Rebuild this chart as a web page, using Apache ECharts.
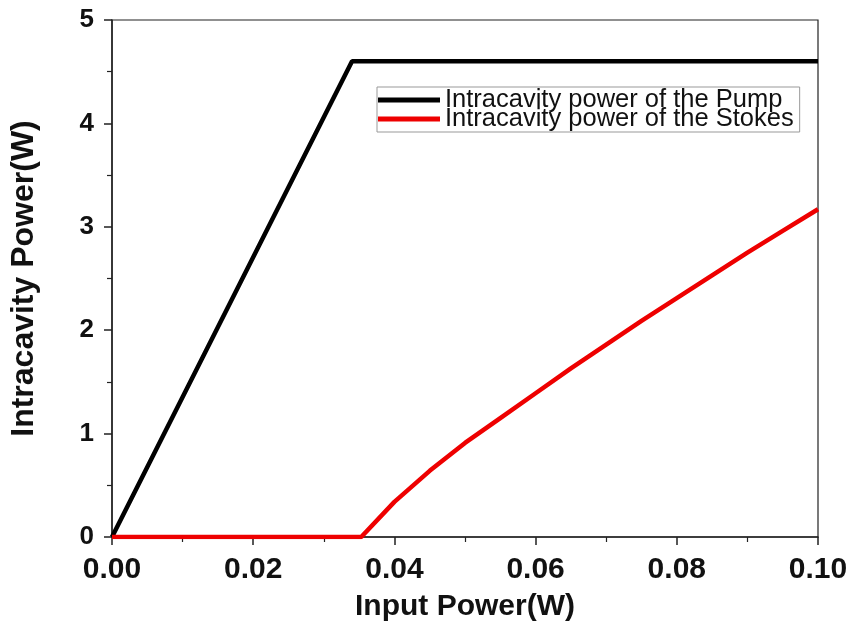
<!DOCTYPE html>
<html><head><meta charset="utf-8">
<script src="https://cdn.jsdelivr.net/npm/echarts@6/dist/echarts.min.js"></script>
<style>html,body{margin:0;padding:0;background:#fff}#c{width:852px;height:627px}</style>
</head><body><div id="c"></div>
<script>
var pumpX = [0, 0.034, 0.1];
var pumpY = [0, 4.6, 4.6];
var stokesX = [0, 0.0353, 0.04, 0.045, 0.05, 0.055, 0.06, 0.065, 0.07, 0.075, 0.08, 0.085, 0.09, 0.095, 0.1];
var stokesY = [0, 0, 0.34, 0.64, 0.91, 1.15, 1.39, 1.63, 1.86, 2.09, 2.31, 2.53, 2.75, 2.96, 3.17];
var seriesNames = ['Intracavity power of the Pump', 'Intracavity power of the Stokes'];
var xName = 'Input Power(W)';
var yName = 'Intracavity Power(W)';

function pairs(xs, ys){ return xs.map(function(x,i){ return [x, ys[i]]; }); }

var chart = echarts.init(document.getElementById('c'));
var font = 'Liberation Sans, Arial, sans-serif';
chart.setOption({
  animation: false,
  backgroundColor: '#fff',
  grid: {left: 112, right: 34, top: 20, bottom: 90, containLabel: false, outerBoundsMode: 'none',
    show: true, borderColor: '#222', borderWidth: 1.2, backgroundColor: 'transparent'},
  legend: {
    orient: 'vertical', left: 377, top: 87, padding: [0, 6, 0, 1], itemGap: -7,
    borderColor: '#999', borderWidth: 1, itemWidth: 62, itemHeight: 5, icon: 'rect',
    textStyle: {fontFamily: font, fontSize: 25.5, color: '#111'},
    data: seriesNames
  },
  xAxis: {
    type: 'value', min: 0, max: 0.1, interval: 0.02,
    name: xName, nameLocation: 'middle', nameGap: 55,
    nameTextStyle: {fontFamily: font, fontSize: 30, fontWeight: 'bold', color: '#111'},
    axisLine: {lineStyle: {color: '#222', width: 1.5}},
    axisTick: {length: 8, lineStyle: {color: '#222', width: 1.5}},
    minorTick: {show: true, splitNumber: 2, length: 5, lineStyle: {color: '#222', width: 1.2}},
    splitLine: {show: false},
    axisLabel: {fontFamily: font, fontSize: 30, fontWeight: 'bold', color: '#111', margin: 18,
      formatter: function(v){ return v.toFixed(2); }}
  },
  yAxis: {
    type: 'value', min: 0, max: 5, interval: 1,
    name: yName, nameLocation: 'middle', nameGap: 72,
    nameTextStyle: {fontFamily: font, fontSize: 32, fontWeight: 'bold', color: '#111'},
    axisLine: {show: true, lineStyle: {color: '#222', width: 1.5}},
    axisTick: {show: true, length: 8, lineStyle: {color: '#222', width: 1.5}},
    minorTick: {show: true, splitNumber: 2, length: 5, lineStyle: {color: '#222', width: 1.2}},
    splitLine: {show: false},
    axisLabel: {fontFamily: font, fontSize: 26, fontWeight: 'bold', color: '#111', margin: 18}
  },
  series: [
    {name: seriesNames[0], type: 'line', data: pairs(pumpX, pumpY), showSymbol: false, symbol: 'none',
      lineStyle: {color: '#000', width: 4.5}, itemStyle: {color: '#000'}},
    {name: seriesNames[1], type: 'line', data: pairs(stokesX, stokesY), showSymbol: false, symbol: 'none',
      lineStyle: {color: '#ee0000', width: 4.5}, itemStyle: {color: '#ee0000'}}
  ]
});
</script></body></html>
